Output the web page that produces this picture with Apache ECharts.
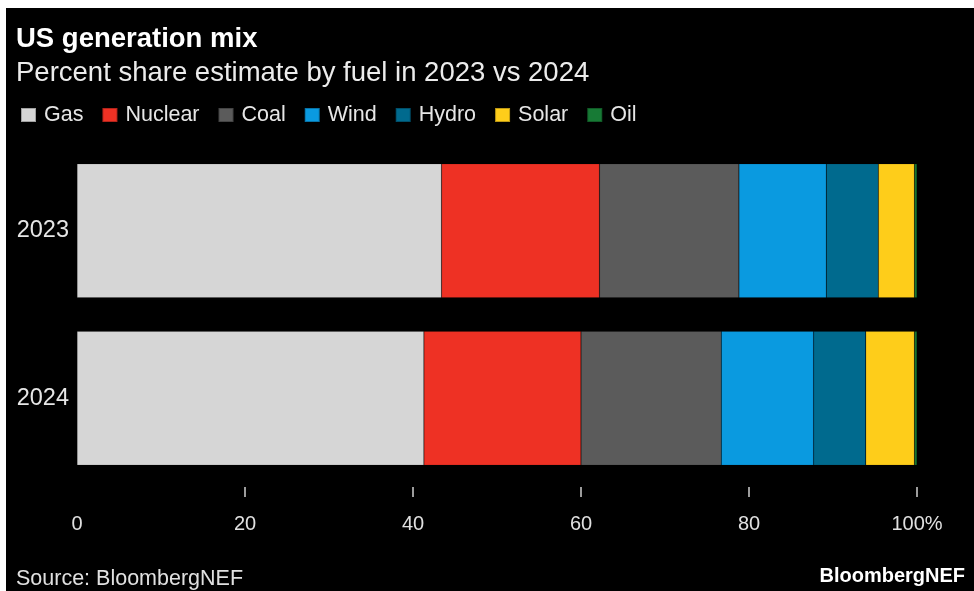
<!DOCTYPE html>
<html>
<head>
<meta charset="utf-8">
<script src="https://cdn.jsdelivr.net/npm/echarts@6/dist/echarts.min.js"></script>
<style>
  html, body { margin: 0; padding: 0; background: #ffffff; }
  #chart { position: absolute; left: 6px; top: 8px; width: 968px; height: 583px; background: #000000; }
</style>
</head>
<body>
<div id="chart"></div>
<script>
// Years shown as bars
const years = ['2023', '2024'];
// Fuel names (legend order = stack order)
const fuels = ['Gas', 'Nuclear', 'Coal', 'Wind', 'Hydro', 'Solar', 'Oil'];
// Percent share per fuel, [2023, 2024]
const gas     = [43.4, 41.3];
const nuclear = [18.8, 18.7];
const coal    = [16.6, 16.7];
const wind    = [10.4, 11.0];
const hydro   = [6.2, 6.2];
const solar   = [4.3, 5.8];
const oil     = [0.3, 0.3];
// Axis ticks
const tickValues = [20, 40, 60, 80, 100];
const labelValues = [0, 20, 40, 60, 80, 100];

const shares = [gas, nuclear, coal, wind, hydro, solar, oil];
const colors = ['#d6d6d6', '#ee3124', '#5b5b5b', '#0a9ae0', '#006a8e', '#fecd1a', '#177a35'];

const FONT = '"Liberation Sans", Arial, sans-serif';
const chart = echarts.init(document.getElementById('chart'));

chart.setOption({
  backgroundColor: '#000000',
  animation: false,
  color: colors,
  textStyle: { fontFamily: FONT },
  graphic: [
    { type: 'text', left: 10, top: 17, style: { text: 'US generation mix', fill: '#ffffff', font: 'bold 27.5px ' + FONT } },
    { type: 'text', left: 10, top: 51, style: { text: 'Percent share estimate by fuel in 2023 vs 2024', fill: '#ececec', font: '27.5px ' + FONT } },
    { type: 'text', left: 10, top: 560, style: { text: 'Source: BloombergNEF', fill: '#e0e0e0', font: '21.5px ' + FONT } },
    { type: 'text', right: 9, top: 558, style: { text: 'BloombergNEF', fill: '#ffffff', font: 'bold 20px ' + FONT } }
  ],
  legend: {
    data: fuels,
    left: 9,
    top: 91,
    icon: 'rect',
    itemWidth: 15,
    itemHeight: 14,
    itemGap: 18,
    textStyle: { color: '#e6e6e6', fontSize: 21.5, fontFamily: FONT, padding: [0, 0, 0, 3] }
  },
  grid: { left: 71, right: 57, top: 139, bottom: 109, containLabel: false },
  xAxis: {
    type: 'value',
    min: 0,
    max: 100,
    interval: 20,
    offset: 5,
    splitLine: { show: false },
    axisLine: { show: false },
    axisTick: { show: true, customValues: tickValues, length: 10, lineStyle: { color: '#d0d0d0', width: 1.5 } },
    axisLabel: {
      customValues: labelValues,
      margin: 27,
      color: '#e0e0e0',
      fontSize: 20,
      fontFamily: FONT,
      formatter: v => (v === 100 ? '100%' : String(v))
    }
  },
  yAxis: {
    type: 'category',
    data: years,
    inverse: true,
    axisLine: { show: false },
    axisTick: { show: false },
    axisLabel: { color: '#e6e6e6', fontSize: 23.5, fontFamily: FONT, margin: 8 }
  },
  series: fuels.map((name, i) => ({
    name: name,
    type: 'bar',
    stack: 'total',
    barCategoryGap: '20%',
    data: shares[i],
    itemStyle: { color: colors[i], borderColor: 'rgba(0,0,0,0.25)', borderWidth: 0.5 }
  }))
});
</script>
</body>
</html>
